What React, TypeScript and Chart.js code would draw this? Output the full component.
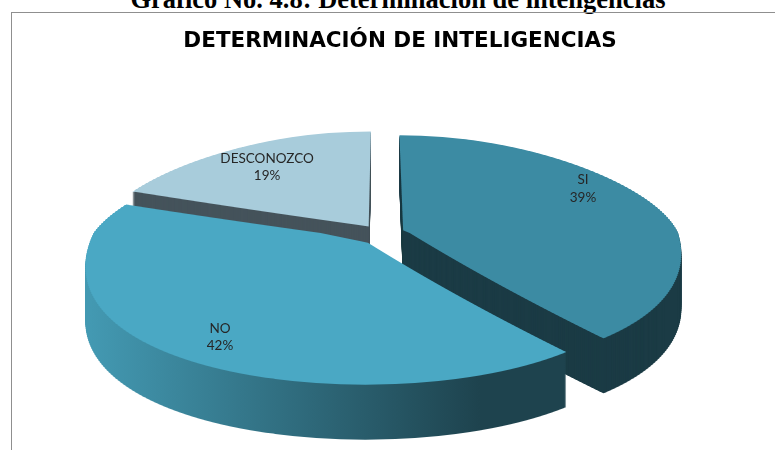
import React, { useEffect, useRef } from 'react';
import { Chart, registerables } from 'chart.js';

Chart.register(...registerables);

// ---- data ----
const PAGE_HEADING = 'Gráfico No. 4.8: Determinación de inteligencias';
const CHART_TITLE = 'DETERMINACIÓN DE INTELIGENCIAS';
const categories = ['SI', 'NO', 'DESCONOZCO'];
const percentages = [39, 42, 19];

// ---- styles ----
const topColors = ['#3c8ba3', '#4aa8c4', '#a8ccdb'];
const sideColors = ['#1b3b45', '#1f4550', '#45535b'];
const noSideGradient = ['#4399b2', '#1e434e'];
const drawOrder = [2, 0, 1];
// label nudges (pixels) applied after projecting each label to its slice
const labelNudgeX = [12.5, -25, -9];
const labelNudgeY = [-20, 16, -6];

// ---- 3D layout (canvas pixels) ----
const CANVAS_LEFT = 12;
const CANVAS_TOP = 13;
const CX = 381.5 - CANVAS_LEFT;
const CY = 233 - CANVAS_TOP;
const RX = 275;
const RY_FAR = 95;
const RY_NEAR = 142;
const PERSP = 0.17;
const DEPTH = 55;
const EXPLODE = 0.084;
const LABEL_FRAC = 0.68;
const STRIP = 2;

function drawSlice(chart: any, arc: any, fill: any, k: number, base: any) {
  const ctx = chart.ctx;
  const { ax, ay, sx, R, d } = base;
  const h = (arc.startAngle + arc.endAngle) / 2;
  const ex = Math.cos(h) * d;
  const ey = Math.sin(h) * d;
  const y00 = CY + k;
  const yTop = y00 - 142;
  const yBot = y00 + 172;
  for (let y0 = yTop; y0 < yBot; y0 += STRIP) {
    const y1 = y0 + STRIP;
    const far = y1 <= y00;
    const sy = (far ? RY_FAR : RY_NEAR) / R;
    const vm = ((y0 + y1) / 2 - y00) / sy; // plane v (chart units)
    const p = 1 + (PERSP * vm) / R;
    const sxp = sx * p;
    ctx.save();
    ctx.beginPath();
    ctx.rect(0, y0, chart.width, STRIP);
    ctx.clip();
    ctx.translate(CX, y00);
    ctx.scale(sxp, sy);
    ctx.translate(ex - ax, ey - ay);
    let f = fill;
    if (Array.isArray(fill)) {
      const ux1 = (78 - CX) / sxp + ax - ex;
      const ux2 = (468 - CX) / sxp + ax - ex;
      const g = ctx.createLinearGradient(ux1, 0, ux2, 0);
      g.addColorStop(0, fill[0]);
      g.addColorStop(1, fill[1]);
      f = g;
    }
    const el = Object.create(arc);
    el.options = Object.assign({}, arc.options, {
      backgroundColor: f,
      borderWidth: 0,
      offset: 0,
      spacing: 0,
    });
    el.draw(ctx);
    ctx.restore();
  }
}

const pie3d = {
  id: 'pie3d',
  beforeDatasetsDraw(chart: any) {
    const meta = chart.getDatasetMeta(0);
    const arcs = meta.data;
    if (!arcs || !arcs.length) return false;
    const R = arcs[0].outerRadius;
    const base = { ax: arcs[0].x, ay: arcs[0].y, sx: RX / R, R, d: EXPLODE * R };
    for (const i of drawOrder) {
      const arc = arcs[i];
      for (let k = DEPTH; k >= 1; k--) {
        drawSlice(chart, arc, i === 1 ? noSideGradient : sideColors[i], k, base);
      }
      drawSlice(chart, arc, topColors[i], 0, base);
    }
    // labels
    const ctx = chart.ctx;
    ctx.save();
    ctx.fillStyle = '#262626';
    ctx.font = '13.5px Lato';
    ctx.textAlign = 'center';
    ctx.textBaseline = 'middle';
    const total = percentages.reduce((a, b) => a + b, 0);
    arcs.forEach((arc: any, i: number) => {
      const h = (arc.startAngle + arc.endAngle) / 2;
      const rad = EXPLODE + LABEL_FRAC;
      const u = Math.cos(h) * rad;
      const v = Math.sin(h) * rad;
      const p = 1 + PERSP * v;
      const x = CX + u * RX * p + labelNudgeX[i];
      const y = CY + v * (v < 0 ? RY_FAR : RY_NEAR) + labelNudgeY[i];
      const pct = Math.round((percentages[i] / total) * 100) + '%';
      ctx.fillText(categories[i], x, y - 8.5);
      ctx.fillText(pct, x, y + 9);
    });
    ctx.restore();
    return false;
  },
};

export default function App() {
  const canvasRef = useRef<HTMLCanvasElement | null>(null);

  useEffect(() => {
    if (!canvasRef.current) return;
    const chart = new Chart(canvasRef.current, {
      type: 'pie',
      data: {
        labels: categories,
        datasets: [
          {
            data: percentages,
            backgroundColor: topColors,
            borderWidth: 0,
          },
        ],
      },
      options: {
        animation: false,
        responsive: false,
        maintainAspectRatio: false,
        events: [],
        plugins: {
          legend: { display: false },
          tooltip: { enabled: false },
          title: {
            display: true,
            text: CHART_TITLE,
            color: '#000000',
            font: { family: '"DejaVu Sans"', size: 21.5, weight: 'bold' },
            padding: { top: 15.3, bottom: 10 },
          },
        },
      },
      plugins: [pie3d],
    });
    return () => chart.destroy();
  }, []);

  return (
    <div
      style={{
        position: 'fixed',
        left: 0,
        top: 0,
        width: 775,
        height: 450,
        overflow: 'hidden',
        background: '#ffffff',
      }}
    >
      <div
        style={{
          position: 'absolute',
          left: 0,
          top: -16.5,
          width: 796,
          textAlign: 'center',
          fontFamily: '"Liberation Serif", serif',
          fontWeight: 'bold',
          fontSize: 26.5,
          lineHeight: '30px',
          whiteSpace: 'nowrap',
          color: '#000',
        }}
      >
        {PAGE_HEADING}
      </div>
      <div
        style={{
          position: 'absolute',
          left: 11,
          top: 12,
          width: 900,
          height: 600,
          borderLeft: '1px solid #8f8f8f',
          borderTop: '1px solid #8f8f8f',
        }}
      />
      <canvas
        ref={canvasRef}
        width={776}
        height={437}
        style={{ position: 'absolute', left: CANVAS_LEFT, top: CANVAS_TOP, width: 776, height: 437 }}
      />
    </div>
  );
}
